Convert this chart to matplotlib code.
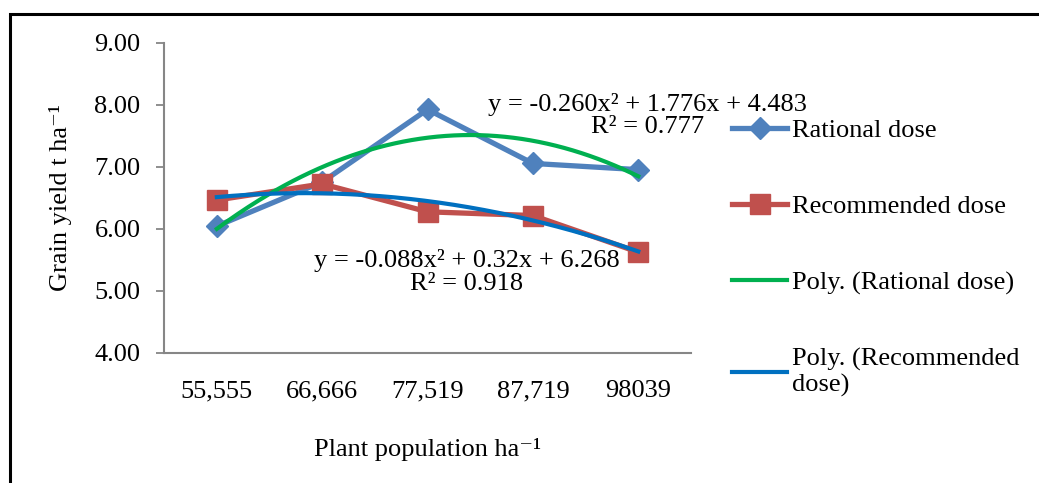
import numpy as np
import matplotlib.pyplot as plt
from matplotlib.patches import Rectangle

plt.rcParams['font.family'] = ['Liberation Serif', 'DejaVu Serif']

# data
populations = ['55,555', '66,666', '77,519', '87,719', '98039']
rational = [6.04, 6.75, 7.92, 7.05, 6.95]
recommended = [6.46, 6.72, 6.27, 6.21, 5.62]
eq_rational = 'y = -0.260x² + 1.776x + 4.483\nR² = 0.777'
eq_recommended = 'y = -0.088x² + 0.32x + 6.268\nR² = 0.918'

x = np.arange(1, len(populations) + 1)
xs = np.linspace(1, len(populations), 200)
fit_rat = np.polyval(np.polyfit(x, rational, 2), xs)
fit_rec = np.polyval(np.polyfit(x, recommended, 2), xs)

fig = plt.figure(figsize=(10.39, 4.83), dpi=100)
ax = fig.add_axes([0.158, 0.270, 0.507, 0.642])

fs = 19
ax.plot(x, rational, c='#4F81BD', lw=3.8, marker='D', ms=11, label='Rational dose', zorder=2)
ax.plot(x, recommended, c='#C0504D', lw=3.8, marker='s', ms=14, label='Recommended dose', zorder=2)
ax.plot(xs, fit_rat, c='#00B050', lw=3, label='Poly. (Rational dose)', zorder=3)
ax.plot(xs, fit_rec, c='#0070C0', lw=3, label='Poly. (Recommended\ndose)', zorder=3)

ax.text(5.09, 7.83, eq_rational, ha='center', va='center', fontsize=fs, linespacing=1.0)
ax.text(3.37, 5.30, eq_recommended, ha='center', va='center', fontsize=fs, linespacing=1.05)

ax.set_xlim(0.5, 5.5)
ax.set_ylim(4, 9)
ax.set_xticks(x)
ax.set_xticklabels(populations)
ax.set_yticks([4, 5, 6, 7, 8, 9])
ax.set_yticklabels(['%.2f' % v for v in [4, 5, 6, 7, 8, 9]])
ax.tick_params(axis='x', length=0, pad=20, labelsize=fs)
ax.tick_params(axis='y', length=6, width=1.3, color='#868686', pad=11, labelsize=fs)
for key in ['top', 'right']:
    ax.spines[key].set_visible(False)
for key in ['left', 'bottom']:
    ax.spines[key].set_color('#868686')
    ax.spines[key].set_linewidth(1.5)

ax.set_xlabel('Plant population ha⁻¹', fontsize=fs)
ax.xaxis.set_label_coords(0.5, -0.275)
ax.set_ylabel('Grain yield t ha⁻¹', fontsize=fs)
ax.yaxis.set_label_coords(-0.175, 0.5)

leg = fig.legend(loc='upper left', bbox_to_anchor=(0.705, 0.755), frameon=False, fontsize=fs,
                 handlelength=2.05, handletextpad=0.2, labelspacing=2.0, borderaxespad=0,
                 borderpad=0)

# border of the chart box (only top and left are visible)
fig.add_artist(Rectangle((10 / 1039, -0.2), 1.2, 1.2 - 14 / 483, transform=fig.transFigure,
                         fill=False, ec='black', lw=2.2))

fig.savefig('out.png', dpi=100)
